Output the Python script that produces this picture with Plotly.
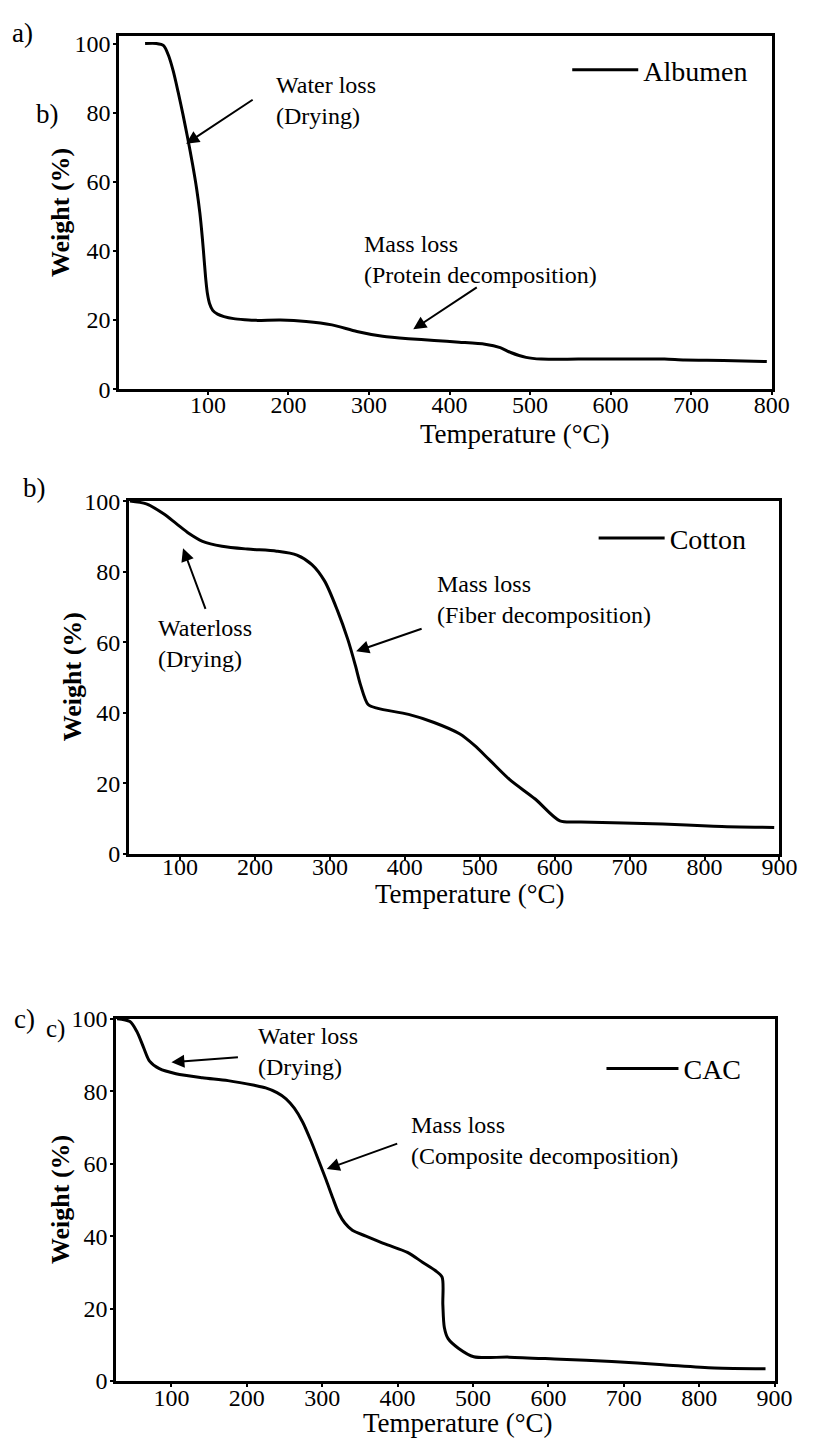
import plotly.graph_objects as go

W, H = 818, 1452
FONT = "Liberation Serif"

# ---------------- data ----------------
temp_albumen = [22, 36, 45, 51, 57, 63, 69, 75, 81, 86, 90, 93, 95.5, 97.5, 99.5, 102, 106, 112, 120, 132, 146,
                160, 190, 222, 254, 285, 317, 349, 381, 412, 444, 463, 476, 495, 514, 560, 620, 667, 692, 740, 794]
weight_albumen = [100, 100, 99.4, 96.6, 92.0, 86.0, 79.5, 72.5, 65.0, 58.0, 51.0, 44.0, 37.0, 31.5, 27.5, 24.8,
                  22.8, 21.7, 21.0, 20.4, 20.1, 19.9, 20.0, 19.6, 18.6, 16.7, 15.3, 14.6, 14.1, 13.6, 13.0, 12.0,
                  10.6, 9.2, 8.7, 8.7, 8.7, 8.7, 8.4, 8.3, 8.0]

temp_cotton = [33, 55, 78, 95, 112, 130, 156, 190, 229, 256, 276, 293, 310, 324, 334, 341, 351, 364, 405, 439,
               473, 493, 513, 540, 574, 607, 635, 744, 812, 893]
weight_cotton = [100, 99.2, 96.4, 93.6, 90.8, 88.6, 87.2, 86.4, 85.8, 84.7, 82.0, 77.3, 69.0, 60.7, 53.4, 47.8,
                 42.3, 41.2, 39.5, 37.2, 34.0, 30.7, 26.6, 21.0, 15.5, 9.3, 9.0, 8.4, 7.8, 7.4]

temp_cac = [28, 45, 54, 63, 71, 84, 106, 141, 175, 210, 225, 240, 252, 263, 274, 285, 295, 305, 314, 322, 330,
            340, 358, 385, 413, 433, 450, 459, 460, 462, 467, 481, 501, 548, 616, 684, 752, 820, 888]
weight_cac = [100, 99.2, 96.5, 92.1, 88.3, 86.2, 84.8, 83.7, 82.9, 81.6, 80.9, 79.6, 77.9, 75.3, 71.5, 66.3, 61.0,
              55.6, 50.5, 46.3, 43.6, 41.6, 40.0, 37.7, 35.5, 32.8, 30.5, 28.7, 21.1, 14.8, 11.7, 9.0, 6.7, 6.6,
              6.0, 5.4, 4.5, 3.6, 3.4]

x_ticks_a = [100, 200, 300, 400, 500, 600, 700, 800]
x_ticks_bc = [100, 200, 300, 400, 500, 600, 700, 800, 900]
y_ticks = [0, 20, 40, 60, 80, 100]


def fx(px):
    return px / W


def fy(py):
    return 1 - py / H


fig = go.Figure()

panels = [
    # (suffix, temps, weights, name, legend, box px (l, r, t, b), xrange, yrange, xticks, label standoff, smoothing)
    ("", temp_albumen, weight_albumen, "Albumen", "legend", (122, 789, 23, 383), [-10, 800], [0, 102.3],
     x_ticks_a, -11, 0.7),
    ("2", temp_cotton, weight_cotton, "Cotton", "legend2", (132, 797, 497, 856), [32, 900], [0, 100],
     x_ticks_bc, -13, 0.8),
    ("3", temp_cac, weight_cac, "CAC", "legend3", (119, 792, 1024, 1393), [27, 900], [0, 100],
     x_ticks_bc, -10, 0.8),
]

layout = {}
for suf, t, w, name, leg, (l, r, tp, bt), xr, yr, xt, sto, sm in panels:
    fig.add_trace(go.Scatter(
        x=t, y=w, mode="lines", name=name,
        line=dict(color="black", width=3, shape="spline", smoothing=sm),
        xaxis="x" + suf, yaxis="y" + suf, legend=leg, showlegend=True,
    ))
    axcommon = dict(showgrid=False, zeroline=False, showline=True, linecolor="black", linewidth=3,
                    mirror=True, ticks="outside", ticklen=3, tickwidth=1.5, tickcolor="black",
                    tickfont=dict(family=FONT, size=24, color="black"))
    layout["xaxis" + suf] = dict(axcommon, domain=[fx(l), fx(r)], range=xr, tickvals=xt,
                                 anchor="y" + suf, ticklabelstandoff=sto)
    layout["yaxis" + suf] = dict(axcommon, domain=[fy(bt), fy(tp)], range=yr, tickvals=y_ticks,
                                 anchor="x" + suf, ticklabelstandoff=-2)

fig.update_layout(**layout)

leg_common = dict(xanchor="left", yanchor="middle", bgcolor="rgba(0,0,0,0)",
                  font=dict(family=FONT, size=28, color="black"), tracegroupgap=0)
fig.update_layout(
    width=W, height=H, margin=dict(l=0, r=0, t=0, b=0),
    paper_bgcolor="white", plot_bgcolor="white",
    legend=dict(leg_common, x=fx(580), y=fy(58), itemwidth=66),
    legend2=dict(leg_common, x=fx(607), y=fy(535), itemwidth=66),
    legend3=dict(leg_common, x=fx(615), y=fy(1075), itemwidth=72),
)

ann = []


def text(px, py, s, size=24, xanchor="left", bold=False, angle=0):
    if bold:
        s = "<b>" + s + "</b>"
    ann.append(dict(x=fx(px), y=fy(py), xref="paper", yref="paper", text=s, showarrow=False,
                    xanchor=xanchor, yanchor="middle", align="left", textangle=angle,
                    font=dict(family=FONT, size=size, color="black")))


def arrow(xref, yref, x, y, ax, ay):
    ann.append(dict(x=x, y=y, xref=xref, yref=yref, ax=ax, ay=ay, text="", showarrow=True,
                    arrowhead=2, arrowsize=1.3, arrowwidth=2, arrowcolor="black"))


# panel labels
text(10, 20, "a)", size=27)
text(35, 103, "b)", size=27)
text(21, 484, "b)", size=27)
text(12, 1024, "c)", size=27)
text(45, 1035, "c)", size=25)

# axis titles
for cx, cy in [(527, 429), (481, 897), (468, 1436)]:
    text(cx, cy, "Temperature (°C)", size=27, xanchor="center")
for cx, cy in [(62, 203), (75, 676), (62, 1208)]:
    text(cx, cy, "Weight (%)", size=26, xanchor="center", bold=True, angle=-90)

# panel a annotations
text(280, 89, "Water loss<br>(Drying)")
text(370, 251, "Mass loss<br>(Protein decomposition)")
arrow("x", "y", 73, 71, 68, -45)
arrow("x", "y", 355, 17.3, 65, -43)

# panel b annotations
text(160, 642, "Waterloss<br>(Drying)")
text(445, 597, "Mass loss<br>(Fiber decomposition)")
arrow("x2", "y2", 104, 86.6, 23, 62)
arrow("x2", "y2", 335, 57.4, 67, -23)

# panel c annotations
text(262, 1057, "Water loss<br>(Drying)")
text(418, 1148, "Mass loss<br>(Composite decomposition)")
arrow("x3", "y3", 100, 88, 68, -5)
arrow("x3", "y3", 306, 58.5, 72, -26)

fig.update_layout(annotations=ann)
fig.write_html("out.html")
